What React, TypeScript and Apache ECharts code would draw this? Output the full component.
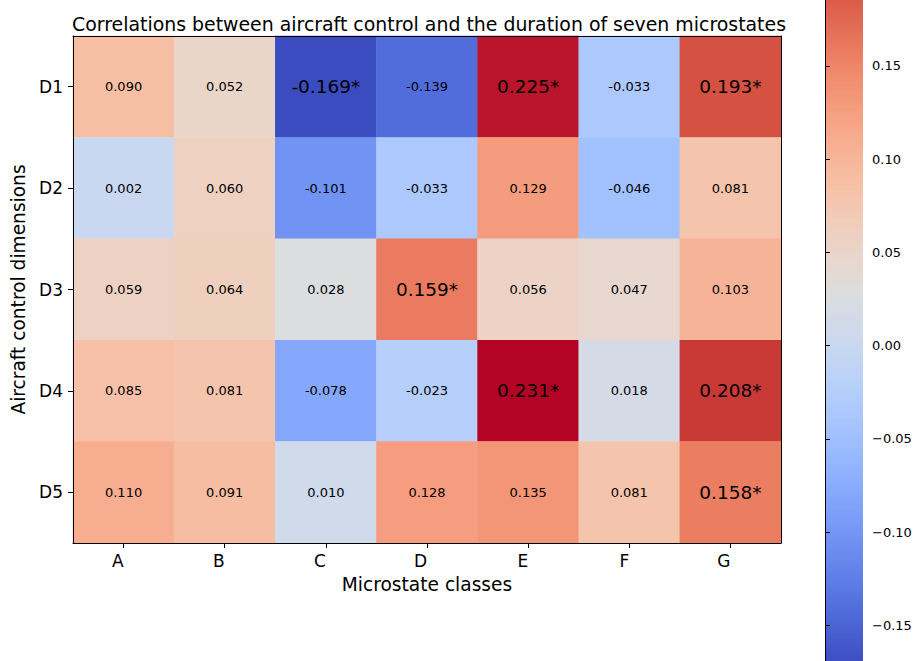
import React, { useEffect, useRef } from "react";
import * as echarts from "echarts";

const xCategories = ["A", "B", "C", "D", "E", "F", "G"];
const yCategories = ["D1", "D2", "D3", "D4", "D5"];

const rowD1 = [0.09, 0.052, -0.169, -0.139, 0.225, -0.033, 0.193];
const rowD2 = [0.002, 0.06, -0.101, -0.033, 0.129, -0.046, 0.081];
const rowD3 = [0.059, 0.064, 0.028, 0.159, 0.056, 0.047, 0.103];
const rowD4 = [0.085, 0.081, -0.078, -0.023, 0.231, 0.018, 0.208];
const rowD5 = [0.11, 0.091, 0.01, 0.128, 0.135, 0.081, 0.158];

const sigD1 = [false, false, true, false, true, false, true];
const sigD2 = [false, false, false, false, false, false, false];
const sigD3 = [false, false, false, true, false, false, false];
const sigD4 = [false, false, false, false, true, false, true];
const sigD5 = [false, false, false, false, false, false, true];

const colorbarTicks = [-0.15, -0.1, -0.05, 0, 0.05, 0.1, 0.15];

const rows = [rowD1, rowD2, rowD3, rowD4, rowD5];
const sigs = [sigD1, sigD2, sigD3, sigD4, sigD5];

const coolwarm = [
  "#3b4cc0", "#445acc", "#4d68d7", "#5775e1", "#6282ea", "#6c8ef1", "#779af7", "#82a5fb",
  "#8db0fe", "#98b9ff", "#a3c2ff", "#aec9fd", "#b8d0f9", "#c2d5f4", "#ccd9ee", "#d5dbe6",
  "#dddddd", "#e5d8d1", "#ecd3c5", "#f1ccb8", "#f5c4ac", "#f7bba0", "#f7b194", "#f7a687",
  "#f49a7b", "#f18d6f", "#ec7f63", "#e57058", "#de604d", "#d55042", "#cb3e38", "#c0282f",
  "#b40426",
];

const VMIN = -0.169;
const VMAX = 0.231;

// The figure is taller than the window (the colorbar is cropped), so the chart
// canvas extends above the viewport by OFFSET pixels.
const OFFSET = 100;

export default function App() {
  const ref = useRef<HTMLDivElement>(null);
  useEffect(() => {
    if (!ref.current) return;
    const chart = echarts.init(ref.current, null, { renderer: "svg" });
    const data: any[] = [];
    rows.forEach((row, yi) => {
      row.forEach((v, xi) => {
        data.push([xi, yi, v]);
      });
    });
    const font = "DejaVu Sans";
    const cbTop = OFFSET - 85.3;
    const cbHeight = 751;
    const fmtMinus = (v: number) => {
      const s = Math.abs(v).toFixed(2);
      return v < -1e-9 ? "\u2212" + s : s;
    };
    chart.setOption({
      animation: false,
      backgroundColor: "#ffffff",
      textStyle: { fontFamily: font },
      title: {
        text: "Correlations between aircraft control and the duration of seven microstates",
        left: 424,
        top: OFFSET + 9,
        textAlign: "center",
        textStyle: { fontFamily: font, fontSize: 18.9, fontWeight: "normal", color: "#000" },
      },
      grid: [
        { left: 73, top: OFFSET + 36, width: 708, height: 507, show: false },
        { left: 825, top: cbTop, width: 38, height: cbHeight, show: false },
      ],
      xAxis: [
        {
          type: "category",
          gridIndex: 0,
          data: xCategories,
          position: "bottom",
          z: 10,
          axisLine: { show: true, lineStyle: { color: "#000", width: 1 } },
          axisTick: { show: true, alignWithLabel: true, length: 5, lineStyle: { color: "#000" } },
          axisLabel: { fontSize: 17, color: "#000", margin: 9, fontFamily: font, align: "right" },
          splitLine: { show: false },
          name: "Microstate classes",
          nameLocation: "middle",
          nameGap: 32,
          nameTextStyle: { fontSize: 18.6, color: "#000", fontFamily: font },
        },
        {
          type: "category",
          gridIndex: 0,
          data: xCategories,
          position: "top",
          z: 10,
          axisLine: { show: true, lineStyle: { color: "#000", width: 1 } },
          axisTick: { show: false },
          axisLabel: { show: false },
        },
        {
          type: "value",
          gridIndex: 1,
          show: false,
        },
      ],
      yAxis: [
        {
          type: "category",
          gridIndex: 0,
          data: yCategories,
          inverse: true,
          position: "left",
          z: 10,
          axisLine: { show: true, lineStyle: { color: "#000", width: 1 } },
          axisTick: { show: true, alignWithLabel: true, length: 5, lineStyle: { color: "#000" } },
          axisLabel: { fontSize: 17, color: "#000", margin: 10, fontFamily: font },
          splitLine: { show: false },
          name: "Aircraft control dimensions",
          nameLocation: "middle",
          nameGap: 44,
          nameRotate: 90,
          nameTextStyle: { fontSize: 18.6, color: "#000", fontFamily: font },
        },
        {
          type: "category",
          gridIndex: 0,
          data: yCategories,
          inverse: true,
          position: "right",
          z: 10,
          axisLine: { show: true, lineStyle: { color: "#000", width: 1 } },
          axisTick: { show: false },
          axisLabel: { show: false },
        },
        {
          type: "value",
          gridIndex: 1,
          min: VMIN,
          max: VMAX,
          position: "right",
          z: 10,
          axisLine: { show: true, lineStyle: { color: "#000", width: 1 } },
          axisTick: {
            show: true,
            length: 5,
            customValues: colorbarTicks,
            lineStyle: { color: "#000" },
          },
          axisLabel: {
            show: true,
            customValues: colorbarTicks,
            fontSize: 13,
            color: "#000",
            margin: 9,
            fontFamily: font,
            formatter: (v: number) => fmtMinus(v),
          },
          splitLine: { show: false },
        },
        {
          type: "value",
          gridIndex: 1,
          min: VMIN,
          max: VMAX,
          position: "left",
          z: 10,
          axisLine: { show: true, lineStyle: { color: "#000", width: 1 } },
          axisTick: { show: false },
          axisLabel: { show: false },
          splitLine: { show: false },
        },
      ],
      visualMap: {
        type: "continuous",
        min: VMIN,
        max: VMAX,
        seriesIndex: 0,
        calculable: false,
        realtime: false,
        show: true,
        orient: "vertical",
        left: 825,
        top: cbTop,
        itemWidth: 38,
        itemHeight: cbHeight,
        padding: 0,
        text: ["", ""],
        showLabel: false,
        inRange: { color: coolwarm },
      },
      series: [
        {
          type: "heatmap",
          xAxisIndex: 0,
          yAxisIndex: 0,
          data,
          label: {
            show: true,
            color: "#000",
            fontFamily: font,
            formatter: (p: any) => {
              const xi = p.value[0];
              const yi = p.value[1];
              const v = p.value[2] as number;
              const s = v.toFixed(3);
              return sigs[yi][xi] ? `{b|${s}*}` : `{a|${s}}`;
            },
            rich: {
              a: { fontSize: 13, color: "#000", fontFamily: font },
              b: { fontSize: 18.5, color: "#000", fontFamily: font },
            },
          },
          itemStyle: { borderWidth: 0 },
          emphasis: { disabled: true },
        },
      ],
    });
    return () => chart.dispose();
  }, []);
  return (
    <div
      ref={ref}
      style={{ position: "fixed", left: 0, top: -OFFSET, width: 917, height: 661 + OFFSET }}
    />
  );
}
